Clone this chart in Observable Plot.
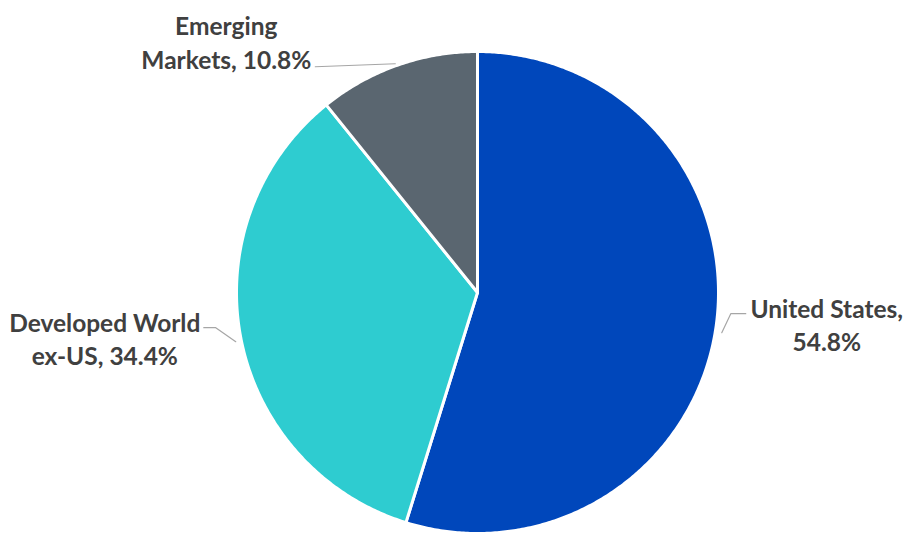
<!DOCTYPE html>
<html>
<head>
<meta charset="utf-8">
<script src="https://cdn.jsdelivr.net/npm/d3@7"></script>
<script src="https://cdn.jsdelivr.net/npm/@observablehq/plot@0.6"></script>
<style>
  html, body { margin: 0; padding: 0; background: #fff; }
  #chart { width: 905px; height: 534px; }
</style>
</head>
<body>
<div id="chart"></div>
<script>
// ---- data ----
const categories = ["United States", "Developed World ex-US", "Emerging Markets"];
const shares = [54.8, 34.4, 10.8];
const labelTexts = ["United States,\n54.8%", "Developed World\nex-US, 34.4%", "Emerging\nMarkets, 10.8%"];
const sliceColors = ["#0047BB", "#2ECCD0", "#5A6670"];

// ---- layout (pixels) ----
const W = 905, H = 534, CX = 477, CY = 292, R = 241;
const layout = {
  "United States":          { text: [111, -5], leader: [[6, 4], [15, -15], [30, -15]] },
  "Developed World ex-US":  { text: [-136, 0], leader: [[-5, 4], [-25, -10], [-37, -10]] },
  "Emerging Markets":       { text: [-171, -24], leader: [[-2, -1.5], [-82, 1.5]] }
};

// ---- geometry from data (unit circle, clockwise from top) ----
const total = d3.sum(shares);
let acc = 0;
const slices = categories.map((name, i) => {
  const a0 = acc / total * 2 * Math.PI;
  acc += shares[i];
  const a1 = acc / total * 2 * Math.PI;
  return { name, a0, a1, mid: (a0 + a1) / 2, label: labelTexts[i] };
});

const polyPoints = [];
for (const s of slices) {
  polyPoints.push({ name: s.name, u: 0, v: 0 });
  const n = Math.max(2, Math.ceil((s.a1 - s.a0) / (Math.PI / 360)));
  for (let k = 0; k <= n; k++) {
    const a = s.a0 + (s.a1 - s.a0) * k / n;
    polyPoints.push({ name: s.name, u: Math.sin(a), v: Math.cos(a) });
  }
  polyPoints.push({ name: s.name, u: 0, v: 0 });
}

const leaderPoints = [];
const labelRows = [];
for (const s of slices) {
  const eu = Math.sin(s.mid), ev = Math.cos(s.mid);
  const L = layout[s.name];
  for (const [dx, dy] of L.leader) {
    leaderPoints.push({ name: s.name, u: eu + dx / R, v: ev - dy / R });
  }
  labelRows.push({ label: s.label, u: eu + L.text[0] / R, v: ev - L.text[1] / R });
}

const chart = Plot.plot({
  width: W,
  height: H,
  margin: 0,
  style: { background: "#fff" },
  x: { domain: [-CX / R, (W - CX) / R], axis: null },
  y: { domain: [(CY - H) / R, CY / R], axis: null },
  color: { domain: categories, range: sliceColors },
  marks: [
    Plot.line(polyPoints, {
      x: "u", y: "v", z: "name", fill: "name",
      stroke: "#fff", strokeWidth: 3, strokeLinejoin: "round"
    }),
    Plot.line(leaderPoints, {
      x: "u", y: "v", z: "name", stroke: "#A6A6A6", strokeWidth: 1.2
    }),
    Plot.text(labelRows, {
      x: "u", y: "v", text: "label",
      fontFamily: "Lato", fontWeight: "bold", fontSize: 24.5,
      fill: "#404040", lineHeight: 1.38, textAnchor: "middle", lineAnchor: "middle"
    })
  ]
});
document.getElementById("chart").appendChild(chart);
</script>
</body>
</html>
